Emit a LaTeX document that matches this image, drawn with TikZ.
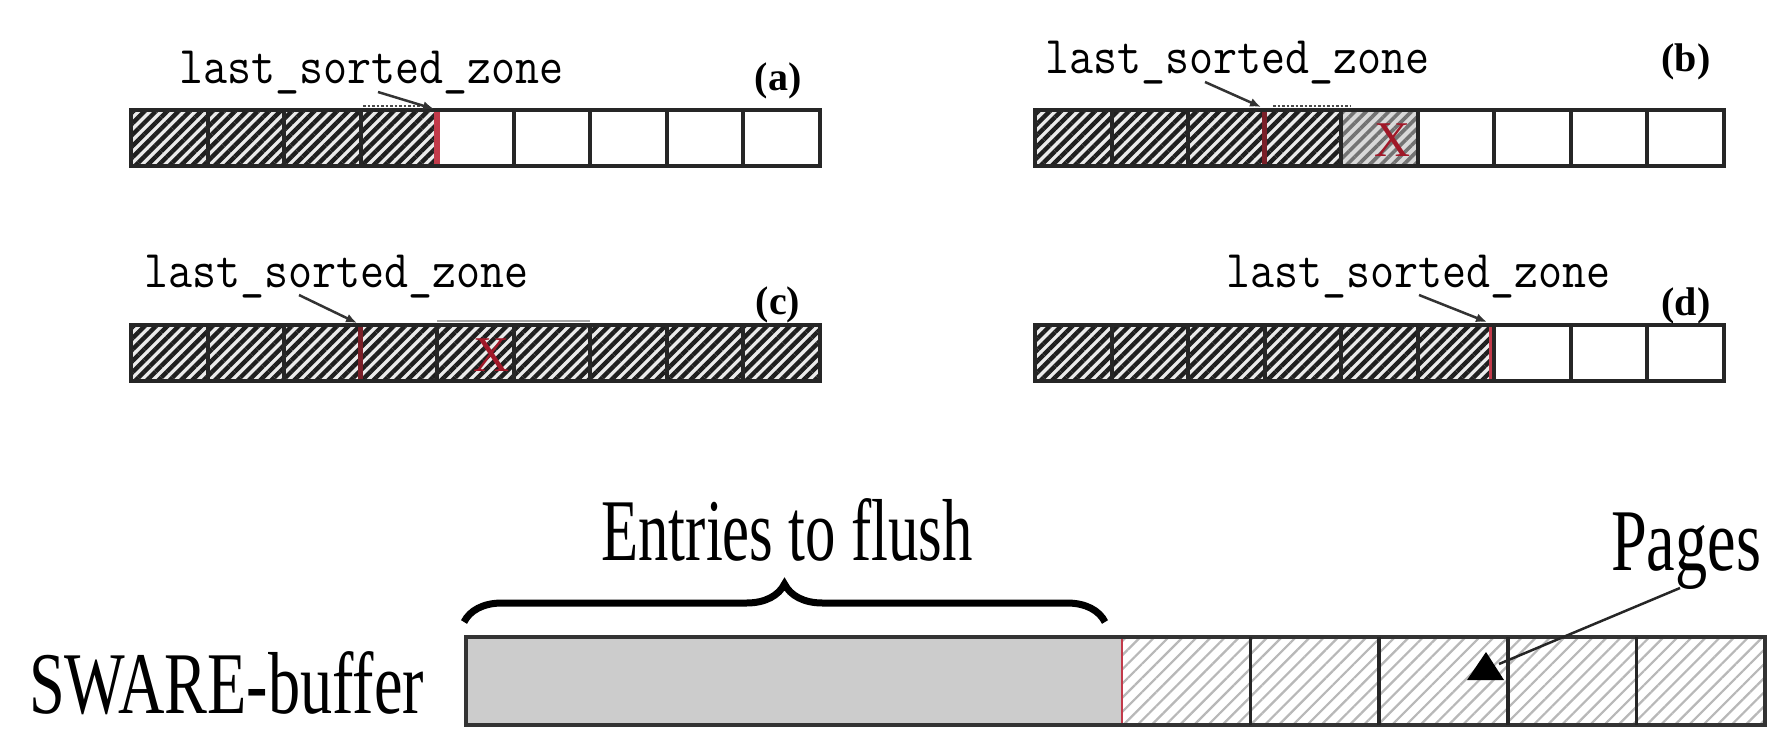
\documentclass[tikz,border=0pt]{standalone}
\usepackage{fontspec}
\newfontfamily\serif{Liberation Serif}
\usetikzlibrary{patterns.meta,arrows.meta,decorations.pathreplacing}
\definecolor{sortred}{HTML}{C23A4A}
\definecolor{darkred}{HTML}{7A1F28}
\definecolor{xred}{HTML}{A01828}
\begin{document}
\begin{tikzpicture}[x=1pt,y=-1pt,
  cellborder/.style={draw=black!85,line width=4pt},
  darkhatch/.style={fill=black!8,postaction={pattern={Lines[angle=45,distance=8pt,line width=4.4pt]},pattern color=black!88}},
  midhatch/.style={fill=black!15,postaction={pattern={Lines[angle=45,distance=8pt,line width=3.6pt]},pattern color=black!55}},
  lighthatch/.style={fill=white,postaction={pattern={Lines[angle=45,distance=10pt,line width=2.2pt]},pattern color=black!28}},
  zonelabel/.style={font=\ttfamily\fontsize{53}{60}\selectfont,xscale=0.88,inner sep=0pt,anchor=base west},
  caselabel/.style={font=\serif\bfseries\fontsize{40}{46}\selectfont,inner sep=0pt},
  bigtext/.style={font=\serif\fontsize{88}{96}\selectfont,inner sep=0pt},
  ptr/.style={-{Latex[length=11pt,width=9pt]},line width=2.5pt,draw=black!80},
  dotline/.style={dotted,line width=2.5pt,draw=black!70},
  xmark/.style={font=\serif\fontsize{50}{56}\selectfont,text=xred,inner sep=0pt}
]
\useasboundingbox (0,0) rectangle (1769,731);

% ---------- (a) ----------
\foreach \i in {0,...,3} \path[darkhatch] ({131+\i*76.5},110) rectangle ++(76.5,56);
\foreach \i in {0,...,8} \draw[cellborder] ({131+\i*76.5},110) rectangle ++(76.5,56);
\draw[sortred,line width=5.5pt] (437,112) -- (437,164);
\draw[dotline] (363,106) -- (430,106);
\node[zonelabel] (la) at (179,83) {last\_sorted\_zone};
\node[caselabel] (ca) at (778,81) {(a)};
\coordinate (fa) at (378,92);
\coordinate (ta) at (434,109);
\draw[ptr] (fa) -- (ta);

% ---------- (b) ----------
\foreach \i in {0,...,3} \path[darkhatch] ({1035+\i*76.5},110) rectangle ++(76.5,56);
\path[midhatch] ({1035+4*76.5},110) rectangle ++(76.5,56);
\foreach \i in {0,...,8} \draw[cellborder] ({1035+\i*76.5},110) rectangle ++(76.5,56);
\draw[darkred,line width=5pt] (1264.5,112) -- (1264.5,164);
\draw[dotline] (1273,106) -- (1350,106);
\node[xmark] (xb) at (1393,140) {X};
\node[zonelabel] (lb) at (1045,73) {last\_sorted\_zone};
\node[caselabel] (cb) at (1686,62) {(b)};
\coordinate (fb) at (1205,82);
\coordinate (tb) at (1261,107);
\draw[ptr] (fb) -- (tb);

% ---------- (c) ----------
\foreach \i in {0,...,8} \path[darkhatch] ({131+\i*76.5},325) rectangle ++(76.5,56);
\foreach \i in {0,...,8} \draw[cellborder] ({131+\i*76.5},325) rectangle ++(76.5,56);
\draw[black!35,line width=2.5pt] (437,321) -- (590,321);
\draw[darkred,line width=4.5pt] (360.5,327) -- (360.5,379);
\node[xmark] (xc) at (492,355) {X};
\node[zonelabel] (lc) at (144,287) {last\_sorted\_zone};
\node[caselabel] (cc) at (778,305) {(c)};
\coordinate (fc) at (299,295);
\coordinate (tc) at (357,323);
\draw[ptr] (fc) -- (tc);

% ---------- (d) ----------
\foreach \i in {0,...,5} \path[darkhatch] ({1035+\i*76.5},325) rectangle ++(76.5,56);
\foreach \i in {0,...,8} \draw[cellborder] ({1035+\i*76.5},325) rectangle ++(76.5,56);
\draw[sortred,line width=3pt] (1490,327) -- (1490,379);
\node[zonelabel] (ld) at (1226,287) {last\_sorted\_zone};
\node[caselabel] (cd) at (1686,306) {(d)};
\coordinate (fd) at (1419,295);
\coordinate (td) at (1487,322);
\draw[ptr] (fd) -- (td);

% ---------- SWARE buffer ----------
\path[fill=black!20] (466,637) rectangle (1122,725);
\foreach \i in {0,...,4} \path[lighthatch] ({1122+\i*128.6},637) rectangle ++(128.6,88);
\draw[draw=black!80,line width=4pt] (466,637) rectangle (1765,725);
\foreach \i in {1,...,4} \draw[black!85,line width=3.5pt] ({1122+\i*128.6},637) -- ++(0,88);
\draw[sortred,line width=2.5pt] (1122,639) -- (1122,723);

\node[bigtext,anchor=base west,xscale=0.73] (sw) at (29,713) {SWARE-buffer};
\node[bigtext,anchor=base,xscale=0.69] (ef) at (787,560) {Entries to flush};
\node[bigtext,anchor=base west,xscale=0.73] (pg) at (1611,570) {Pages};

\coordinate (bl) at (464,622);
\coordinate (br) at (1105,622);
\draw[decorate,decoration={brace,amplitude=38pt},line width=7pt] (bl) -- (br);

\coordinate (ps) at (1680,588);
\coordinate (pt) at (1499,664);
\draw[black!85,line width=2.5pt] (ps) -- (pt);
\fill[black] (1486,652) -- (1504,680) -- (1467,680) -- cycle;
\end{tikzpicture}
\end{document}
